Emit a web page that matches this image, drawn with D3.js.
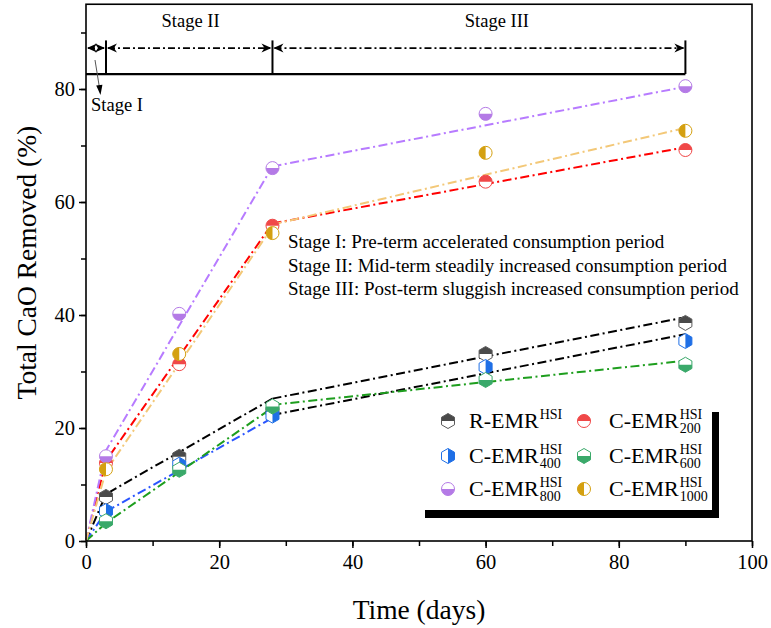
<!DOCTYPE html>
<html>
<head>
<meta charset="utf-8">
<script src="https://cdn.jsdelivr.net/npm/d3@7"></script>
<style>
  body { margin: 0; background: #fff; }
  text { font-family: "Liberation Serif", "Times New Roman", serif; fill: #000; }
</style>
</head>
<body>
<div id="chart"></div>
<script>
// measured points (days vs total CaO removed, %)
const days = [3, 14, 28, 60, 90];
const rEMR = [7.8, 14.9, 23.0, 33.1, 38.6];
const cEMR200 = [13.8, 31.3, 55.8, 63.6, 69.2];
const cEMR400 = [5.3, 13.5, 22.2, 30.8, 35.4];
const cEMR600 = [3.5, 12.6, 23.8, 28.5, 31.2];
const cEMR800 = [15.0, 40.2, 66.0, 75.6, 80.5];
const cEMR1000 = [12.7, 33.1, 54.5, 68.7, 72.6];

// fitted stage lines: early = stage I + II, late = stage III
const earlyDays = [0, 3, 28];
const lateDays = [28, 90];
const rEarly = [0, 8.3, 25.2], rLate = [25.2, 39.6];
const c200Early = [0, 14.2, 56.2], c200Late = [56.2, 69.7];
const c400Early = [0, 5.2, 21.8], c400Late = [22.3, 36.6];
const c600Early = [0, 3.2, 23.6], c600Late = [24.1, 31.9];
const c800Early = [0, 16.0, 66.3], c800Late = [66.3, 80.4];
const c1000Early = [0, 12.4, 55.6], c1000Late = [56.0, 73.1];

const stageBounds = [0, 3, 28, 90];
const stageLabels = ["Stage I", "Stage II", "Stage III"];
const notes = [
  "Stage I: Pre-term accelerated consumption period",
  "Stage II: Mid-term steadily increased consumption period",
  "Stage III: Post-term sluggish increased consumption period"
];

const xTicks = [0, 20, 40, 60, 80, 100];
const yTicks = [0, 20, 40, 60, 80];

const series = [
  {name: "R-EMR", sub: "", vals: rEMR, early: rEarly, late: rLate, shape: "hex", half: "top",
   fill: "#4a4a4a", stroke: "#5a5a5a", c1: "#000", c2: "#000"},
  {name: "C-EMR", sub: "200", vals: cEMR200, early: c200Early, late: c200Late, shape: "circle", half: "top",
   fill: "#f04848", stroke: "#f04848", c1: "#ff0000", c2: "#ff0000"},
  {name: "C-EMR", sub: "400", vals: cEMR400, early: c400Early, late: c400Late, shape: "hex", half: "right",
   fill: "#1f6fe6", stroke: "#1f6fe6", c1: "#2a55ff", c2: "#000"},
  {name: "C-EMR", sub: "600", vals: cEMR600, early: c600Early, late: c600Late, shape: "hex", half: "bottom",
   fill: "#3aa96a", stroke: "#3aa96a", c1: "#1e9e1e", c2: "#1e9e1e"},
  {name: "C-EMR", sub: "800", vals: cEMR800, early: c800Early, late: c800Late, shape: "circle", half: "bottom",
   fill: "#b47ae6", stroke: "#b47ae6", c1: "#b77bff", c2: "#b77bff"},
  {name: "C-EMR", sub: "1000", vals: cEMR1000, early: c1000Early, late: c1000Late, shape: "circle", half: "left",
   fill: "#d4a010", stroke: "#d4a010", c1: "#f3c878", c2: "#f3c878"}
];

const W = 771, H = 628;
const svg = d3.select("#chart").append("svg")
  .attr("width", W).attr("height", H);

const x = d3.scaleLinear().domain([0, 100]).range([86, 752]);
const y = d3.scaleLinear().domain([0, 95]).range([541, 4.25]);

// marker shapes
function markerPaths(shape, half) {
  if (shape === "circle") {
    const r = 6.5;
    const full = `M${-r},0A${r},${r} 0 1 1 ${r},0A${r},${r} 0 1 1 ${-r},0Z`;
    const halves = {
      top: `M${-r},0A${r},${r} 0 0 1 ${r},0Z`,
      bottom: `M${-r},0A${r},${r} 0 0 0 ${r},0Z`,
      left: `M0,${-r}A${r},${r} 0 0 0 0,${r}Z`,
      right: `M0,${-r}A${r},${r} 0 0 1 0,${r}Z`
    };
    return [full, halves[half]];
  }
  const r = 7.5, c = r * Math.cos(Math.PI / 6);
  const full = `M0,${-r}L${c},${-r / 2}L${c},${r / 2}L0,${r}L${-c},${r / 2}L${-c},${-r / 2}Z`;
  const halves = {
    top: `M${-c},0L${-c},${-r / 2}L0,${-r}L${c},${-r / 2}L${c},0Z`,
    bottom: `M${-c},0L${-c},${r / 2}L0,${r}L${c},${r / 2}L${c},0Z`,
    right: `M0,${-r}L${c},${-r / 2}L${c},${r / 2}L0,${r}Z`,
    left: `M0,${-r}L${-c},${-r / 2}L${-c},${r / 2}L0,${r}Z`
  };
  return [full, halves[half]];
}

function drawMarker(g, s, cx, cy) {
  const [full, half] = markerPaths(s.shape, s.half);
  const m = g.append("g").attr("transform", `translate(${cx},${cy})`);
  m.append("path").attr("d", full).attr("fill", "#fff");
  m.append("path").attr("d", half).attr("fill", s.fill);
  m.append("path").attr("d", full).attr("fill", "none")
    .attr("stroke", s.stroke).attr("stroke-width", 1);
}

// axes
const minorX = d3.range(0, 101, 10);
const minorY = d3.range(0, 95, 10);

svg.append("g")
  .attr("transform", `translate(0,${y(0)})`)
  .call(d3.axisBottom(x).tickValues(minorX).tickSize(5).tickFormat(""))
  .call(g => g.select(".domain").remove())
  .selectAll("line").attr("stroke-width", 1.5);

svg.append("g")
  .attr("transform", `translate(0,${y(0)})`)
  .call(d3.axisBottom(x).tickValues(xTicks).tickSize(7).tickPadding(6))
  .call(g => g.select(".domain").remove())
  .call(g => g.selectAll("line").attr("stroke-width", 1.5))
  .selectAll("text").attr("font-size", 20.5).attr("font-family", "Liberation Serif");

svg.append("g")
  .attr("transform", `translate(${x(0)},0)`)
  .call(d3.axisLeft(y).tickValues(minorY).tickSize(5).tickFormat(""))
  .call(g => g.select(".domain").remove())
  .selectAll("line").attr("stroke-width", 1.5);

svg.append("g")
  .attr("transform", `translate(${x(0)},0)`)
  .call(d3.axisLeft(y).tickValues(yTicks).tickSize(7).tickPadding(4))
  .call(g => g.select(".domain").remove())
  .call(g => g.selectAll("line").attr("stroke-width", 1.5))
  .selectAll("text").attr("font-size", 20.5).attr("font-family", "Liberation Serif");

// fitted dash-dot lines
const line = d3.line().x(d => x(d[0])).y(d => y(d[1]));
const dash = "9,3.5,2,3.5";
const fitG = svg.append("g");
series.forEach(s => {
  fitG.append("path")
    .datum(earlyDays.map((d, i) => [d, s.early[i]]))
    .attr("d", line).attr("fill", "none")
    .attr("stroke", s.c1).attr("stroke-width", 2).attr("stroke-dasharray", dash);
  fitG.append("path")
    .datum(lateDays.map((d, i) => [d, s.late[i]]))
    .attr("d", line).attr("fill", "none")
    .attr("stroke", s.c2).attr("stroke-width", 2).attr("stroke-dasharray", dash);
});

// markers
const markG = svg.append("g");
series.forEach(s => {
  days.forEach((d, i) => drawMarker(markG, s, x(d), y(s.vals[i])));
});

// plot frame
svg.append("rect")
  .attr("x", x(0)).attr("y", y(95))
  .attr("width", x(100) - x(0)).attr("height", y(0) - y(95))
  .attr("fill", "none").attr("stroke", "#000").attr("stroke-width", 1.6);

// stage band at top
const stageLineY = y(82.65), arrowY = y(87.25), tickTop = y(88.6);
const stG = svg.append("g");
stG.append("line")
  .attr("x1", x(0)).attr("x2", x(90))
  .attr("y1", stageLineY).attr("y2", stageLineY)
  .attr("stroke", "#000").attr("stroke-width", 2.2);
stageBounds.slice(1).forEach(b => {
  stG.append("line")
    .attr("x1", x(b)).attr("x2", x(b))
    .attr("y1", tickTop).attr("y2", stageLineY)
    .attr("stroke", "#000").attr("stroke-width", 2);
});

function arrowHead(px, py, dir) {
  // dir = -1 points left, +1 points right
  const L = 10, w = 4.5, n = 7;
  const p = `M${px},${py}L${px - dir * L},${py - w}L${px - dir * n},${py}L${px - dir * L},${py + w}Z`;
  stG.append("path").attr("d", p).attr("fill", "#000");
}

for (let i = 0; i < 3; i++) {
  const a = x(stageBounds[i]), b = x(stageBounds[i + 1]);
  stG.append("line")
    .attr("x1", a + 2).attr("x2", b - 2)
    .attr("y1", arrowY).attr("y2", arrowY)
    .attr("stroke", "#000").attr("stroke-width", 1.8)
    .attr("stroke-dasharray", "7,3,2,3");
  arrowHead(a + 1, arrowY, -1);
  arrowHead(b - 1, arrowY, 1);
}

stG.append("text").attr("x", x(15.7)).attr("y", y(92.1)).attr("dy", "0.35em")
  .attr("text-anchor", "middle").attr("font-size", 18.5).text(stageLabels[1]);
stG.append("text").attr("x", x(61.7)).attr("y", y(92.1)).attr("dy", "0.35em")
  .attr("text-anchor", "middle").attr("font-size", 18.5).text(stageLabels[2]);

// Stage I callout
stG.append("line")
  .attr("x1", 95).attr("y1", 60).attr("x2", 99.5).attr("y2", 88)
  .attr("stroke", "#555").attr("stroke-width", 1);
stG.append("path").attr("d", "M100.5,95L96.2,85.5L102.4,84.7Z").attr("fill", "#000");
stG.append("text").attr("x", 91).attr("y", 111).attr("font-size", 18.5).text(stageLabels[0]);

// notes
notes.forEach((t, i) => {
  svg.append("text").attr("x", 288).attr("y", 248 + i * 23.5)
    .attr("font-size", 19).text(t);
});

// legend
const lg = svg.append("g");
lg.append("rect").attr("x", 425).attr("y", 412).attr("width", 294).attr("height", 106).attr("fill", "#000");
lg.append("rect").attr("x", 419).attr("y", 406).attr("width", 293).attr("height", 104).attr("fill", "#fff");

const colX = [448, 584], textX = [469, 609], rowY = [421, 456, 489];
series.forEach((s, i) => {
  const col = i % 2, row = Math.floor(i / 2);
  drawMarker(lg, s, colX[col], rowY[row]);
  const base = rowY[row] + 7;
  const t = lg.append("text").attr("x", textX[col]).attr("y", base)
    .attr("font-size", 22).text(s.name);
  const w = t.node().getComputedTextLength();
  lg.append("text").attr("x", textX[col] + w + 1).attr("y", base - 9)
    .attr("font-size", 14).text("HSI");
  if (s.sub) {
    lg.append("text").attr("x", textX[col] + w + 1).attr("y", base + 5)
      .attr("font-size", 14).text(s.sub);
  }
});

// axis titles
svg.append("text")
  .attr("transform", `translate(36,${(y(0) + y(95)) / 2 - 10}) rotate(-90)`)
  .attr("text-anchor", "middle").attr("font-size", 27.5)
  .text("Total CaO Removed (%)");
svg.append("text")
  .attr("x", (x(0) + x(100)) / 2).attr("y", 619)
  .attr("text-anchor", "middle").attr("font-size", 27.5)
  .text("Time (days)");
</script>
</body>
</html>
